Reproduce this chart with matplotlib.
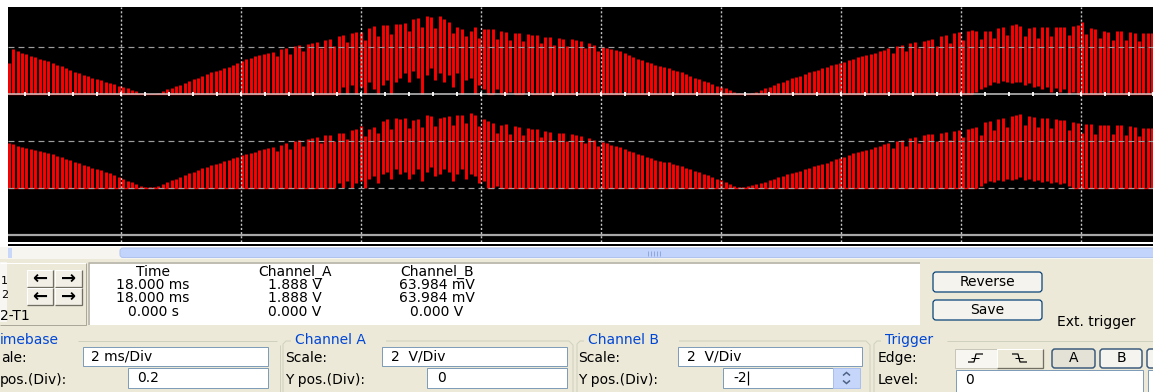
import numpy as np
import matplotlib
matplotlib.use("Agg")
import matplotlib.pyplot as plt
from matplotlib.patches import Rectangle, FancyBboxPatch

plt.rcParams['font.family'] = ['DejaVu Sans']
plt.rcParams['lines.scale_dashes'] = False

ms_per_div = 2.0
cha_volts_per_div = 2.0
chb_volts_per_div = 2.0
cha_ypos_div = 0.0
chb_ypos_div = -2.0
sample_t0_ms = 0.13
sample_dt_ms = 0.0733
grid_times_ms = [2, 4, 6, 8, 10, 12, 14, 16, 18]
grid_levels_div = [1, -1, -2]

cha_peak = [
    1.30, 1.90, 1.82, 1.76, 1.70, 1.62, 1.56, 1.50, 1.45, 1.40,
    1.33, 1.25, 1.18, 1.10, 1.03, 0.95, 0.88, 0.82, 0.76, 0.70,
    0.65, 0.58, 0.52, 0.47, 0.42, 0.36, 0.30, 0.24, 0.18, 0.13,
    0.06, 0.03, 0.00, 0.02, 0.06, 0.12, 0.20, 0.26, 0.33, 0.40,
    0.48, 0.55, 0.62, 0.70, 0.78, 0.85, 0.92, 0.98, 1.04, 1.10,
    1.16, 1.25, 1.33, 1.42, 1.48, 1.55, 1.60, 1.65, 1.70, 1.75,
    1.80, 1.62, 1.90, 1.95, 1.70, 2.03, 2.07, 1.85, 2.13, 2.17,
    2.20, 1.95, 2.30, 2.36, 2.05, 2.48, 2.53, 2.20, 2.60, 2.62,
    2.64, 2.30, 2.80, 2.90, 2.45, 2.92, 2.94, 2.55, 2.98, 3.00,
    3.02, 2.70, 3.18, 3.25, 2.85, 3.32, 3.28, 2.80, 3.30, 3.20,
    3.05, 2.60, 2.85, 2.77, 2.45, 2.70, 2.85, 2.40, 2.75, 2.78,
    2.77, 2.35, 2.68, 2.64, 2.30, 2.60, 2.58, 2.25, 2.55, 2.53,
    2.50, 2.15, 2.44, 2.42, 2.10, 2.38, 2.36, 2.05, 2.32, 2.30,
    2.25, 1.95, 2.15, 2.10, 1.85, 2.00, 1.97, 1.93, 1.88, 1.84,
    1.75, 1.65, 1.57, 1.50, 1.43, 1.36, 1.30, 1.24, 1.18, 1.13,
    1.10, 1.04, 0.98, 0.92, 0.86, 0.78, 0.70, 0.63, 0.56, 0.50,
    0.42, 0.36, 0.30, 0.24, 0.15, 0.08, 0.03, 0.00, 0.02, 0.05,
    0.10, 0.17, 0.24, 0.30, 0.38, 0.45, 0.52, 0.60, 0.66, 0.72,
    0.78, 0.85, 0.93, 0.98, 1.04, 1.10, 1.15, 1.22, 1.28, 1.33,
    1.38, 1.45, 1.51, 1.57, 1.62, 1.67, 1.72, 1.76, 1.82, 1.88,
    1.95, 1.75, 2.05, 2.10, 1.85, 2.18, 2.21, 1.95, 2.27, 2.30,
    2.36, 2.05, 2.46, 2.50, 2.15, 2.60, 2.63, 2.30, 2.69, 2.72,
    2.70, 2.35, 2.68, 2.70, 2.40, 2.80, 2.86, 2.50, 2.95, 2.98,
    2.90, 2.45, 2.82, 2.85, 2.40, 2.85, 2.83, 2.45, 2.84, 2.85,
    2.85, 2.50, 2.90, 2.95, 3.06, 2.55, 2.81, 2.75, 2.40, 2.66,
    2.64, 2.30, 2.68, 2.68, 2.30, 2.62, 2.60, 2.25, 2.60, 2.60,
    2.60,
]
cha_valley = [
    0, 0, 0, 0, 0, 0, 0, 0, 0, 0,
    0, 0, 0, 0, 0, 0, 0, 0, 0, 0,
    0, 0, 0, 0, 0, 0, 0, 0, 0, 0,
    0, 0, 0, 0, 0, 0, 0, 0, 0, 0,
    0, 0, 0, 0, 0, 0, 0, 0, 0, 0,
    0, 0, 0, 0, 0, 0, 0, 0, 0, 0,
    0, 0, 0, 0, 0, 0, 0, 0, 0, 0,
    0, 0, 0, 0, 0, 0, 0.3, 0, 0.4, 0,
    0.3, 0, 0.5, 0.2, 0, 0.4, 0.6, 0, 0.5, 0.7,
    0.9, 0.5, 1.0, 0.7, 0, 0.8, 1.1, 0.6, 0.9, 0.5,
    0.8, 0.3, 0.9, 0, 0.6, 0.7, 0, 0.4, 0.2, 0,
    0, 0.2, 0, 0, 0.1, 0, 0, 0, 0.1, 0,
    0, 0, 0, 0, 0, 0, 0, 0, 0, 0,
    0, 0, 0, 0, 0, 0, 0, 0, 0, 0,
    0, 0, 0, 0, 0, 0, 0, 0, 0, 0,
    0, 0, 0, 0, 0, 0, 0, 0, 0, 0,
    0, 0, 0, 0, 0, 0, 0, 0, 0, 0,
    0, 0, 0, 0, 0, 0, 0, 0, 0, 0,
    0, 0, 0, 0, 0, 0, 0, 0, 0, 0,
    0, 0, 0, 0, 0, 0, 0, 0, 0, 0,
    0, 0, 0, 0, 0, 0, 0, 0, 0, 0,
    0, 0, 0, 0, 0, 0, 0, 0, 0, 0,
    0.1, 0.2, 0.3, 0.4, 0.5, 0.45, 0.55, 0.5, 0.45, 0.5,
    0.5, 0.4, 0.45, 0.3, 0.35, 0.2, 0.3, 0.1, 0.25, 0.1,
    0.2, 0, 0.1, 0, 0, 0, 0, 0, 0, 0,
    0, 0, 0, 0, 0, 0, 0, 0, 0, 0,
    0,
]
chb_peak = [
    1.90, 1.86, 1.80, 1.74, 1.70, 1.65, 1.60, 1.56, 1.52, 1.47,
    1.43, 1.37, 1.31, 1.25, 1.19, 1.12, 1.06, 0.99, 0.93, 0.87,
    0.82, 0.76, 0.70, 0.64, 0.55, 0.45, 0.37, 0.30, 0.24, 0.18,
    0.10, 0.06, 0.04, 0.05, 0.10, 0.16, 0.24, 0.32, 0.40, 0.47,
    0.56, 0.63, 0.70, 0.77, 0.84, 0.90, 0.96, 1.02, 1.08, 1.14,
    1.20, 1.27, 1.33, 1.40, 1.45, 1.50, 1.55, 1.60, 1.65, 1.70,
    1.75, 1.58, 1.85, 1.90, 1.66, 2.00, 2.03, 1.80, 2.10, 2.14,
    2.17, 1.90, 2.24, 2.27, 2.00, 2.33, 2.36, 2.10, 2.45, 2.50,
    2.62, 2.20, 2.50, 2.60, 2.35, 2.85, 2.95, 2.50, 2.98, 2.92,
    2.98, 2.55, 2.89, 2.95, 2.60, 3.10, 3.05, 2.65, 3.00, 3.02,
    3.05, 2.70, 3.10, 3.12, 2.75, 3.19, 3.10, 2.65, 2.95, 2.85,
    2.75, 2.35, 2.70, 2.72, 2.30, 2.62, 2.60, 2.25, 2.55, 2.52,
    2.50, 2.15, 2.42, 2.40, 2.05, 2.34, 2.32, 2.00, 2.28, 2.26,
    2.22, 1.90, 2.12, 2.06, 1.80, 1.95, 1.90, 1.85, 1.79, 1.73,
    1.66, 1.59, 1.52, 1.46, 1.39, 1.33, 1.27, 1.21, 1.15, 1.12,
    1.10, 1.04, 0.98, 0.92, 0.86, 0.80, 0.74, 0.68, 0.60, 0.54,
    0.47, 0.40, 0.33, 0.26, 0.18, 0.10, 0.05, 0.05, 0.08, 0.12,
    0.16, 0.20, 0.25, 0.32, 0.40, 0.47, 0.52, 0.58, 0.64, 0.70,
    0.74, 0.80, 0.87, 0.92, 0.97, 1.02, 1.08, 1.15, 1.22, 1.29,
    1.34, 1.40, 1.47, 1.53, 1.58, 1.63, 1.68, 1.74, 1.80, 1.86,
    1.90, 1.70, 2.00, 2.05, 1.80, 2.14, 2.18, 1.90, 2.26, 2.28,
    2.30, 2.00, 2.34, 2.37, 2.05, 2.44, 2.47, 2.15, 2.52, 2.55,
    2.60, 2.25, 2.80, 2.85, 2.45, 2.95, 3.00, 2.60, 3.08, 3.10,
    3.15, 2.70, 3.05, 3.02, 2.60, 2.98, 2.98, 2.55, 2.93, 2.90,
    2.89, 2.45, 2.80, 2.75, 2.35, 2.72, 2.72, 2.30, 2.70, 2.68,
    2.68, 2.30, 2.68, 2.66, 2.25, 2.62, 2.60, 2.20, 2.56, 2.55,
    2.55,
]
chb_valley = [
    0, 0, 0, 0, 0, 0, 0, 0, 0, 0,
    0, 0, 0, 0, 0, 0, 0, 0, 0, 0,
    0, 0, 0, 0, 0, 0, 0, 0, 0, 0,
    0, 0, 0, 0, 0, 0, 0, 0, 0, 0,
    0, 0, 0, 0, 0, 0, 0, 0, 0, 0,
    0, 0, 0, 0, 0, 0, 0, 0, 0, 0,
    0, 0, 0, 0, 0, 0, 0, 0, 0, 0,
    0, 0, 0, 0, 0, 0.2, 0, 0.3, 0, 0.2,
    0.3, 0, 0.4, 0.5, 0.2, 0.6, 0.7, 0.4, 0.8, 0.6,
    0.7, 0.4, 0.6, 0.8, 0.3, 0.7, 0.9, 0.5, 0.6, 0.8,
    0.7, 0.3, 0.6, 0.8, 0.4, 0.6, 0.5, 0.2, 0.3, 0,
    0, 0.1, 0, 0, 0, 0, 0, 0, 0, 0,
    0, 0, 0, 0, 0, 0, 0, 0, 0, 0,
    0, 0, 0, 0, 0, 0, 0, 0, 0, 0,
    0, 0, 0, 0, 0, 0, 0, 0, 0, 0,
    0, 0, 0, 0, 0, 0, 0, 0, 0, 0,
    0, 0, 0, 0, 0, 0, 0, 0, 0, 0,
    0, 0, 0, 0, 0, 0, 0, 0, 0, 0,
    0, 0, 0, 0, 0, 0, 0, 0, 0, 0,
    0, 0, 0, 0, 0, 0, 0, 0, 0, 0,
    0, 0, 0, 0, 0, 0, 0, 0, 0, 0,
    0, 0, 0, 0, 0, 0, 0, 0, 0, 0,
    0, 0.1, 0.2, 0.3, 0.25, 0.35, 0.3, 0.4, 0.35, 0.4,
    0.45, 0.35, 0.4, 0.3, 0.35, 0.25, 0.3, 0.2, 0.25, 0.15,
    0.2, 0.1, 0, 0, 0, 0, 0, 0, 0, 0,
    0, 0, 0, 0, 0, 0, 0, 0, 0, 0,
    0,
]

readout_headers = ["Time", "Channel_A", "Channel_B"]
readout_rows = [
    ["18.000 ms", "1.888 V", "63.984 mV"],
    ["18.000 ms", "1.888 V", "63.984 mV"],
    ["0.000 s", "0.000 V", "0.000 V"],
]
timebase_scale = "2 ms/Div"
timebase_xpos = "0.2"
cha_scale = "2  V/Div"
cha_ypos = "0"
chb_scale = "2  V/Div"
chb_ypos = "-2"
trigger_level = "0"

# ---------------- figure ----------------
W, H = 1153, 392
PX = 0.72  # points per pixel at dpi 100
fig = plt.figure(figsize=(W / 100, H / 100), dpi=100)
fig.patch.set_facecolor('#ECE9D8')
gui = fig.add_axes([0, 0, 1, 1])
gui.set_xlim(0, W)
gui.set_ylim(H, 0)
gui.axis('off')
gui.set_facecolor('#ECE9D8')

FS = 10


def rect(x0, y0, x1, y1, fc, ec='none', lw=0, z=1):
    gui.add_patch(Rectangle((x0, y0), x1 - x0, y1 - y0, facecolor=fc,
                            edgecolor=ec, linewidth=lw * PX, zorder=z))


def seg(pts, c, lw=1.0, z=4, ls='-'):
    xs = [p[0] for p in pts]
    ys = [p[1] for p in pts]
    gui.plot(xs, ys, color=c, lw=lw * PX, zorder=z, linestyle=ls,
             solid_capstyle='butt', solid_joinstyle='miter')


def rbox(x0, y0, x1, y1, fc, ec, lw=1.0, r=3, z=3):
    gui.add_patch(FancyBboxPatch((x0, y0), x1 - x0, y1 - y0,
                                 boxstyle=f"round,pad=0,rounding_size={r}",
                                 facecolor=fc, edgecolor=ec, linewidth=lw * PX,
                                 zorder=z))


def raised(x0, y0, x1, y1, face='#F1EFE6', z=3):
    rect(x0, y0, x1, y1, face, z=z)
    seg([(x0, y1), (x0, y0), (x1, y0)], '#FFFFFF', 1, z=z + 1)
    seg([(x0, y1), (x1, y1), (x1, y0)], '#716F64', 1.3, z=z + 1)


def txt(x, y, s, ha='left', color='black', fs=FS, weight='normal', z=6):
    gui.text(x, y, s, ha=ha, va='center', color=color, fontsize=fs,
             fontweight=weight, zorder=z)


# white backdrop behind the scope screen
rect(0, 0, W, 247, '#FFFFFF', z=0)

# separator lines under the screen
rect(8, 242, W, 243.5, '#FFFFFF', z=1)
rect(8, 243.5, W, 245.5, '#000000', z=1)

# scroll bar
rect(0, 247, W, 258.5, '#F6F5F0', z=1)
rect(8, 248, 12, 257.5, '#C9D8F8', z=2)
rbox(120, 248, W + 10, 257.5, '#C3D4FC', '#AFC3EE', lw=1, r=3, z=2)
for gx in [648, 651, 654, 657, 660]:
    seg([(gx, 250.5), (gx, 255.5)], '#8FA8DE', 1, z=3)

# cursor buttons panel
rect(0, 262, 86, 325, '#ECE9D8', z=1)
rect(0, 262, 7, 322, '#F7F6F2', z=1)
seg([(0, 262.5), (85.5, 262.5)], '#FFFFFF', 1, z=2)
seg([(85.5, 262.5), (85.5, 325), (0, 325)], '#ACA899', 1, z=2)
for (bx0, bx1, arrow) in [(27, 53, '\u2190'), (55, 82, '\u2192')]:
    for (by0, by1) in [(270, 287), (288, 305)]:
        raised(bx0, by0, bx1, by1)
        txt((bx0 + bx1) / 2, (by0 + by1) / 2, arrow, ha='center', fs=13,
            weight='bold')
txt(1, 281, '1', fs=8)
txt(1, 295, '2', fs=8)
txt(0, 316, '2-T1')

# readout box
rect(88, 262, 920, 324.5, '#FFFFFF', z=1)
seg([(88.5, 324.5), (88.5, 262.5), (920, 262.5)], '#ACA899', 1.5, z=2)
col_x = [153, 295, 437]
row_y = [272, 285, 298, 312]
for cx, head in zip(col_x, readout_headers):
    txt(cx, row_y[0], head, ha='center')
for r, row in enumerate(readout_rows):
    for cx, val in zip(col_x, row):
        txt(cx, row_y[r + 1], val, ha='center')

# Reverse / Save buttons
rbox(933, 272, 1042, 292, '#F4F3EE', '#003C74', lw=1.2, r=3)
txt(987.5, 282, 'Reverse', ha='center')
rbox(933, 300, 1042, 320, '#F4F3EE', '#003C74', lw=1.2, r=3)
txt(987.5, 310, 'Save', ha='center')
txt(1057, 322, 'Ext. trigger')

# group boxes
GL = '#D0D0BF'
BLUE = '#0046D5'
seg([(78, 341), (277, 341)], GL)
seg([(280, 345), (280, 392)], GL)
seg([(283, 392), (283, 344), (286, 341), (291, 341)], GL)
seg([(386, 341), (569, 341), (573, 345), (573, 392)], GL)
seg([(577, 392), (577, 344), (580, 341), (584, 341)], GL)
seg([(679, 341), (866, 341), (870, 345), (870, 392)], GL)
seg([(874, 392), (874, 344), (877, 341), (881, 341)], GL)
seg([(947, 341), (W, 341)], GL)
txt(0, 340, 'imebase', color=BLUE)
txt(295, 340, 'Channel A', color=BLUE)
txt(588, 340, 'Channel B', color=BLUE)
txt(885, 340, 'Trigger', color=BLUE)

# input fields
EB = '#7F9DB9'
fields = [
    (83, 347, 268, 366, timebase_scale, 91),
    (128, 368, 268, 388, timebase_xpos, 137),
    (382, 347, 567, 366, cha_scale, 391),
    (427, 368, 567, 388, cha_ypos, 437),
    (678, 347, 862, 366, chb_scale, 687),
    (723, 368, 833, 388, chb_ypos, 733),
    (956, 370, 1143, 396, trigger_level, 965),
]
for (x0, y0, x1, y1, s, tx) in fields:
    rect(x0, y0, x1, y1, '#FFFFFF', ec=EB, lw=1, z=2)
    txt(tx, (y0 + min(y1, 390)) / 2 + 0.5, s)
rect(1148, 370, 1160, 396, '#FFFFFF', ec=EB, lw=1, z=2)
seg([(748, 371), (748, 385)], '#000000', 1.2, z=7)
# spinner
rect(833, 368, 860, 388, '#C6D6FA', ec='#A9BFEF', lw=1, z=3)
seg([(843, 375.5), (846.5, 372.5), (850, 375.5)], '#4D6185', 1.5, z=5)
seg([(843, 380.5), (846.5, 383.5), (850, 380.5)], '#4D6185', 1.5, z=5)

# labels
txt(1, 358, 'ale:')
txt(0, 380, 'pos.(Div):')
txt(285, 358, 'Scale:')
txt(285, 380, 'Y pos.(Div):')
txt(578, 358, 'Scale:')
txt(578, 380, 'Y pos.(Div):')
txt(878, 358, 'Edge:')
txt(878, 380, 'Level:')

# trigger edge buttons
rect(955, 349, 997, 368, '#F7F6F1', ec='#C8C6B8', lw=1, z=3)
raised(997, 349, 1043, 368, face='#ECE9D8')
seg([(968, 362), (974, 362), (976, 354), (983, 354)], '#000000', 1.2, z=6)
seg([(971, 358), (979, 358)], '#000000', 1.0, z=6)
seg([(1012, 354), (1018, 354), (1020, 362), (1027, 362)], '#000000', 1.2, z=6)
seg([(1015, 358), (1023, 358)], '#000000', 1.0, z=6)
rbox(1052, 349, 1095, 368, '#E4E2D6', '#3A5A7C', lw=1.5, r=3)
txt(1073.5, 358.5, 'A', ha='center')
rbox(1100, 349, 1142, 368, '#F5F4EF', '#3A5A7C', lw=1.5, r=3)
txt(1121, 358.5, 'B', ha='center')
rbox(1147, 349, 1175, 368, '#F5F4EF', '#3A5A7C', lw=1.5, r=3)

# ---------------- scope screen ----------------
sx0, sx1, sy0, sy1 = 8, W, 7, 242
x_origin_px, px_per_div_x = 1, 120
y_zero_px, px_per_div_y = 94, 47
scr = fig.add_axes([sx0 / W, 1 - sy1 / H, (sx1 - sx0) / W, (sy1 - sy0) / H])
scr.set_facecolor('black')
scr.set_xlim((sx0 - x_origin_px) / px_per_div_x * ms_per_div,
             (sx1 - x_origin_px) / px_per_div_x * ms_per_div)
scr.set_ylim((y_zero_px - sy1) / px_per_div_y, (y_zero_px - sy0) / px_per_div_y)
scr.set_xticks([])
scr.set_yticks([])
for sp in scr.spines.values():
    sp.set_visible(False)

t = sample_t0_ms + sample_dt_ms * np.arange(len(cha_peak))
traces = [
    (np.array(cha_peak), np.array(cha_valley), cha_volts_per_div, cha_ypos_div),
    (np.array(chb_peak), np.array(chb_valley), chb_volts_per_div, chb_ypos_div),
]
for peak, valley, vpd, ypos in traces:
    top = peak / vpd + ypos
    bot = valley / vpd + ypos
    scr.vlines(t, bot, top, color='#FF0000', lw=2.9 * PX, zorder=3)
    base = np.where(valley > 0, np.nan, bot)
    scr.plot(t, base, color='#FF0000', lw=1.3 * PX, zorder=3)

# graticule
for gt in grid_times_ms:
    scr.axvline(gt, color='#C4C4C4', lw=1.4 * PX, linestyle=(0, (1.5, 1.5)),
                zorder=5)
for gl in grid_levels_div:
    scr.axhline(gl, color='#9C9C9C', lw=1.2 * PX, linestyle=(0, (4.3, 2.9)),
                zorder=5)
scr.axhline(0, color='#C8C8C8', lw=1.5 * PX, zorder=5)
scr.axhline(-3, color='#A8A8A8', lw=2.2 * PX, zorder=5)
tick_t = np.arange(0.4, 19.3, 0.4)
scr.vlines(tick_t, -0.035, 0.035, color='#FFFFFF', lw=1.8 * PX, zorder=6)

fig.savefig('out.png', dpi=100, facecolor=fig.get_facecolor())
